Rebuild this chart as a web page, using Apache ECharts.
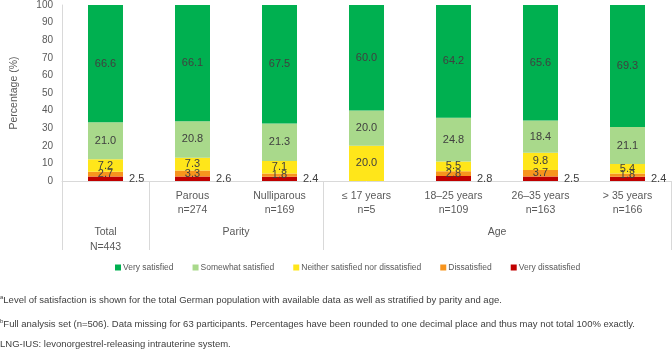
<!DOCTYPE html>
<html>
<head>
<meta charset="utf-8">
<script src="https://cdn.jsdelivr.net/npm/echarts@6/dist/echarts.min.js"></script>
<style>
html,body{margin:0;padding:0;background:#fff;}
#chart{width:672px;height:352px;}
</style>
</head>
<body>
<div id="chart"></div>
<script>
// ---- data ----
var categories = ['Total', 'Parous', 'Nulliparous', '≤ 17 years', '18–25 years', '26–35 years', '> 35 years'];
var categoryLabels = ['', 'Parous\nn=274', 'Nulliparous\nn=169', '≤ 17 years\nn=5', '18–25 years\nn=109', '26–35 years\nn=163', '> 35 years\nn=166'];
var groupLabels = ['Total\nN=443', 'Parity', 'Age'];
var groupCenters = [0.5, 2, 5];
var groupBounds = [0, 1, 3, 7];

var veryDissatisfied = [2.5, 2.6, 2.4, 0, 2.8, 2.5, 2.4];
var dissatisfied = [2.7, 3.3, 1.8, 0, 2.8, 3.7, 1.8];
var neither = [7.2, 7.3, 7.1, 20.0, 5.5, 9.8, 5.4];
var somewhatSatisfied = [21.0, 20.8, 21.3, 20.0, 24.8, 18.4, 21.1];
var verySatisfied = [66.6, 66.1, 67.5, 60.0, 64.2, 65.6, 69.3];

var yTicks = [0, 10, 20, 30, 40, 50, 60, 70, 80, 90, 100];

var footnotes = [
  ['a', 'Level of satisfaction is shown for the total German population with available data as well as stratified by parity and age.'],
  ['b', 'Full analysis set (n=506). Data missing for 63 participants. Percentages have been rounded to one decimal place and thus may not total 100% exactly.'],
  ['', 'LNG-IUS: levonorgestrel-releasing intrauterine system.']
];

// ---- chart ----
var FONT = 'Liberation Sans';
var chart = echarts.init(document.getElementById('chart'), null, {renderer: 'canvas'});

function hideZero(p) { return p.value ? p.value.toFixed(1) : ''; }

function barSeries(name, data, color, labelPos) {
  return {
    name: name,
    type: 'bar',
    stack: 'total',
    data: data,
    barWidth: 35,
    xAxisIndex: 0,
    itemStyle: {color: color},
    label: {
      show: true,
      position: labelPos || 'inside',
      distance: 6,
      formatter: hideZero,
      color: '#404040',
      fontFamily: FONT,
      fontSize: 11
    },
    emphasis: {disabled: true}
  };
}

var option = {
  animation: false,
  textStyle: {fontFamily: FONT},
  grid: {left: 62, right: 1, top: 4, bottom: 171, containLabel: false},
  legend: {
    left: 110,
    top: 258,
    itemWidth: 6,
    itemHeight: 6,
    itemGap: 19,
    icon: 'rect',
    data: ['Very satisfied', 'Somewhat satisfied', 'Neither satisfied nor dissatisfied', 'Dissatisfied', 'Very dissatisfied'],
    textStyle: {color: '#595959', fontFamily: FONT, fontSize: 8.5, padding: [0, 0, 0, -3]}
  },
  xAxis: [
    {
      type: 'category',
      data: categories,
      axisLine: {show: true, lineStyle: {color: '#d9d9d9', width: 1}},
      axisTick: {show: false},
      axisLabel: {
        color: '#595959',
        fontFamily: FONT,
        fontSize: 10.5,
        lineHeight: 14,
        margin: 8,
        interval: 0,
        formatter: function (v, i) { return categoryLabels[i]; }
      }
    },
    {
      type: 'value',
      position: 'bottom',
      min: 0,
      max: 7,
      axisLine: {show: false},
      splitLine: {show: false},
      axisTick: {
        show: true,
        customValues: groupBounds,
        length: 69,
        lineStyle: {color: '#d9d9d9', width: 1}
      },
      axisLabel: {
        show: true,
        customValues: groupCenters,
        color: '#595959',
        fontFamily: FONT,
        fontSize: 10.5,
        lineHeight: 15,
        margin: 44,
        formatter: function (v) {
          var idx = groupCenters.indexOf(v);
          return idx >= 0 ? groupLabels[idx] : '';
        }
      }
    }
  ],
  yAxis: {
    type: 'value',
    min: 0,
    max: 100,
    interval: 10,
    name: 'Percentage (%)',
    nameLocation: 'middle',
    nameGap: 42,
    nameTextStyle: {color: '#595959', fontFamily: FONT, fontSize: 10.5},
    axisLine: {show: true, lineStyle: {color: '#d9d9d9'}},
    axisTick: {show: false},
    splitLine: {show: false},
    axisLabel: {
      color: '#595959',
      fontFamily: FONT,
      fontSize: 10,
      margin: 9,
      formatter: function (v) { return yTicks.indexOf(v) >= 0 ? String(v) : ''; }
    }
  },
  series: [
    barSeries('Very dissatisfied', veryDissatisfied, '#C00000', 'right'),
    barSeries('Dissatisfied', dissatisfied, '#F7941D'),
    barSeries('Neither satisfied nor dissatisfied', neither, '#FFE61A'),
    barSeries('Somewhat satisfied', somewhatSatisfied, '#A9D98B'),
    barSeries('Very satisfied', verySatisfied, '#00B050')
  ],
  graphic: footnotes.map(function (f, i) {
    return {
      type: 'text',
      left: 0,
      top: [294, 318, 339][i],
      style: {
        text: (f[0] ? '{sup|' + f[0] + '}' : '') + '{t|' + f[1] + '}',
        rich: {
          sup: {fontSize: 6, fontFamily: FONT, fill: '#404040', verticalAlign: 'top', lineHeight: 12},
          t: {fontSize: 9.5, fontFamily: FONT, fill: '#404040', lineHeight: 12}
        }
      }
    };
  })
};

chart.setOption(option);
</script>
</body>
</html>
